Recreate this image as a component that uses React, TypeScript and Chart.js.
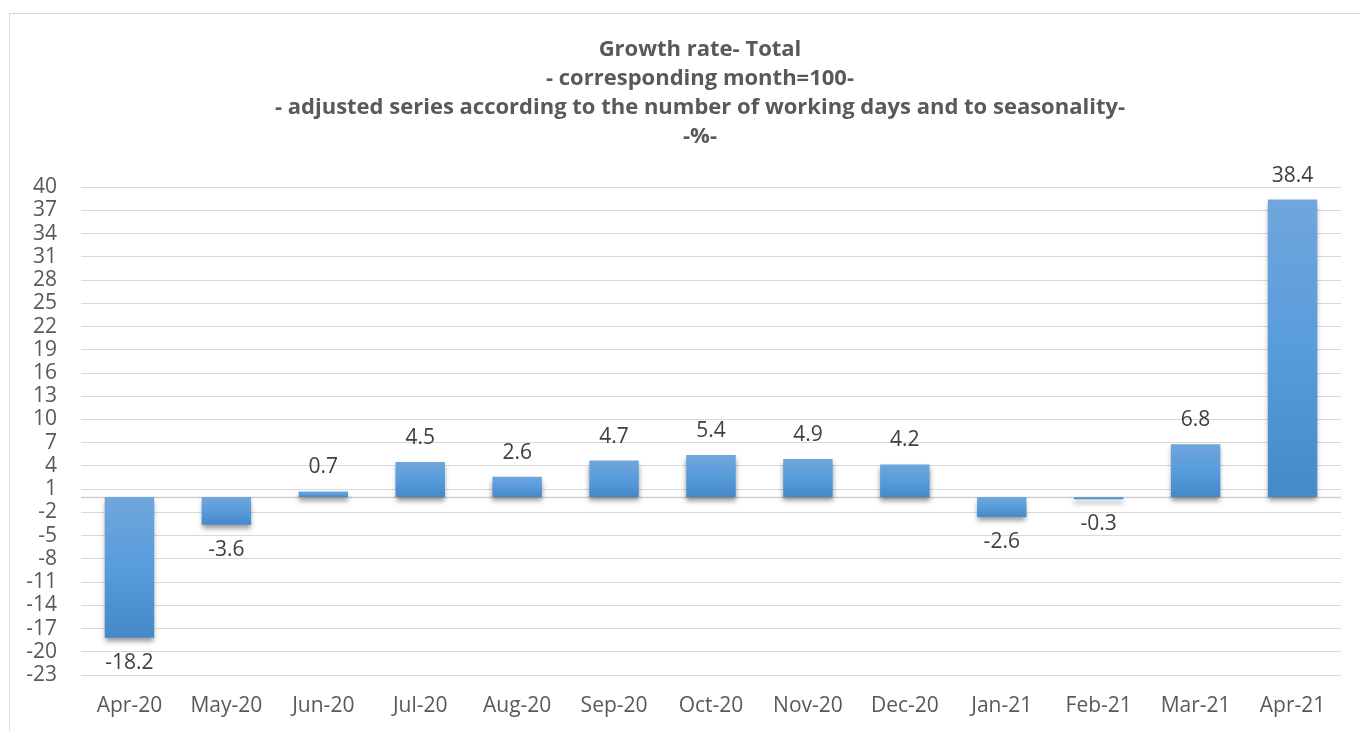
import React, { useEffect, useRef } from "react";
import { Chart, registerables } from "chart.js";

Chart.register(...registerables);

const categories = ["Apr-20", "May-20", "Jun-20", "Jul-20", "Aug-20", "Sep-20", "Oct-20", "Nov-20", "Dec-20", "Jan-21", "Feb-21", "Mar-21", "Apr-21"];
const growthValues = [-18.2, -3.6, 0.7, 4.5, 2.6, 4.7, 5.4, 4.9, 4.2, -2.6, -0.3, 6.8, 38.4];
const titleLines = [
  "Growth rate- Total",
  "- corresponding month=100-",
  "- adjusted series according to the number of working days and to seasonality-",
  "-%-",
];
const yMin = -23;
const yMax = 40;
const yStep = 3;

const FONT = "'Open Sans', 'DejaVu Sans', sans-serif";
const CANVAS_W = 1400;
const CANVAS_H = 731;

export default function App() {
  const ref = useRef<HTMLCanvasElement | null>(null);

  useEffect(() => {
    document.body.style.margin = "0";
    const canvas = ref.current;
    if (!canvas) return;

    const framePlugin = {
      id: "frame",
      beforeDraw(chart: any) {
        const { ctx } = chart;
        ctx.save();
        ctx.fillStyle = "#ffffff";
        ctx.fillRect(0, 0, chart.width, chart.height);
        ctx.strokeStyle = "#d9d9d9";
        ctx.lineWidth = 1;
        ctx.strokeRect(9.5, 13.5, chart.width + 20, chart.height + 20);
        ctx.restore();
      },
    };

    const barFx = {
      id: "barFx",
      beforeDatasetsDraw(chart: any) {
        const { ctx, chartArea } = chart;
        const y0 = Math.round(chart.scales.y.getPixelForValue(0)) + 0.5;
        ctx.save();
        ctx.strokeStyle = "#cfcfcf";
        ctx.lineWidth = 1.5;
        ctx.beginPath();
        ctx.moveTo(chartArea.left, y0);
        ctx.lineTo(chartArea.right, y0);
        ctx.stroke();
        ctx.restore();
        ctx.save();
        ctx.shadowColor = "rgba(0,0,0,0.4)";
        ctx.shadowBlur = 5;
        ctx.shadowOffsetX = 0;
        ctx.shadowOffsetY = 4;
      },
      afterDatasetsDraw(chart: any) {
        const { ctx } = chart;
        ctx.restore();
        const meta = chart.getDatasetMeta(0);
        ctx.save();
        ctx.fillStyle = "#404040";
        ctx.font = `21px ${FONT}`;
        ctx.textAlign = "center";
        ctx.textBaseline = "alphabetic";
        meta.data.forEach((el: any, i: number) => {
          const v = growthValues[i];
          const txt = v.toFixed(1);
          if (v >= 0) {
            ctx.fillText(txt, el.x, el.y - 18);
          } else {
            ctx.fillText(txt, el.x, el.y + 31);
          }
        });
        ctx.restore();
      },
    };

    const chart = new Chart(canvas, {
      type: "bar",
      data: {
        labels: categories,
        datasets: [
          {
            data: growthValues,
            yAxisID: "y",
            backgroundColor: (c: any) => {
              const ch = c.chart;
              const ys = ch.scales && ch.scales.y;
              if (!ch.chartArea || !ys || typeof c.raw !== "number") return "#5b9bd5";
              const p0 = ys.getPixelForValue(0);
              const p1 = ys.getPixelForValue(c.raw);
              const top = Math.min(p0, p1);
              const bot = Math.max(p0, p1) + 0.01;
              const g = ch.ctx.createLinearGradient(0, top, 0, bot);
              g.addColorStop(0, "#70a6dc");
              g.addColorStop(0.5, "#589cdc");
              g.addColorStop(1, "#4689c9");
              return g;
            },
            borderWidth: 0,
            categoryPercentage: 1,
            barPercentage: 0.51,
          },
        ],
      },
      options: {
        animation: false,
        responsive: false,
        maintainAspectRatio: false,
        layout: { padding: { left: 0, right: 0, top: 0, bottom: 0 } },
        plugins: {
          legend: { display: false },
          tooltip: { enabled: false },
          title: {
            display: true,
            text: titleLines,
            color: "#595959",
            font: { family: FONT, size: 22, weight: "bold", lineHeight: 1.32 },
            padding: { top: 35, bottom: 36 },
          },
        },
        scales: {
          x: {
            grid: { display: false },
            border: { display: false },
            ticks: { color: "#595959", font: { family: FONT, size: 21 }, padding: 10, maxRotation: 0, autoSkip: false },
            afterFit: (s: any) => { s.height = 56; },
          },
          y: {
            position: "left",
            min: yMin,
            max: yMax,
            ticks: { stepSize: yStep, color: "#595959", font: { family: FONT, size: 21 }, padding: 24, autoSkip: false },
            grid: { color: "#d9d9d9", lineWidth: 1, drawTicks: false },
            border: { display: false },
            afterFit: (s: any) => { s.width = 81; },
          },
          yRight: {
            type: "linear",
            position: "right",
            min: yMin,
            max: yMax,
            ticks: { display: false },
            grid: { display: false, drawTicks: false },
            border: { display: false },
            afterFit: (s: any) => { s.width = 59; },
          },
        },
      },
      plugins: [framePlugin, barFx],
    });

    return () => chart.destroy();
  }, []);

  return (
    <div style={{ position: "fixed", left: 0, top: 0, width: 1360, height: 731, overflow: "hidden" }}>
      <canvas ref={ref} width={CANVAS_W} height={CANVAS_H} style={{ width: CANVAS_W, height: CANVAS_H, display: "block" }} />
    </div>
  );
}
